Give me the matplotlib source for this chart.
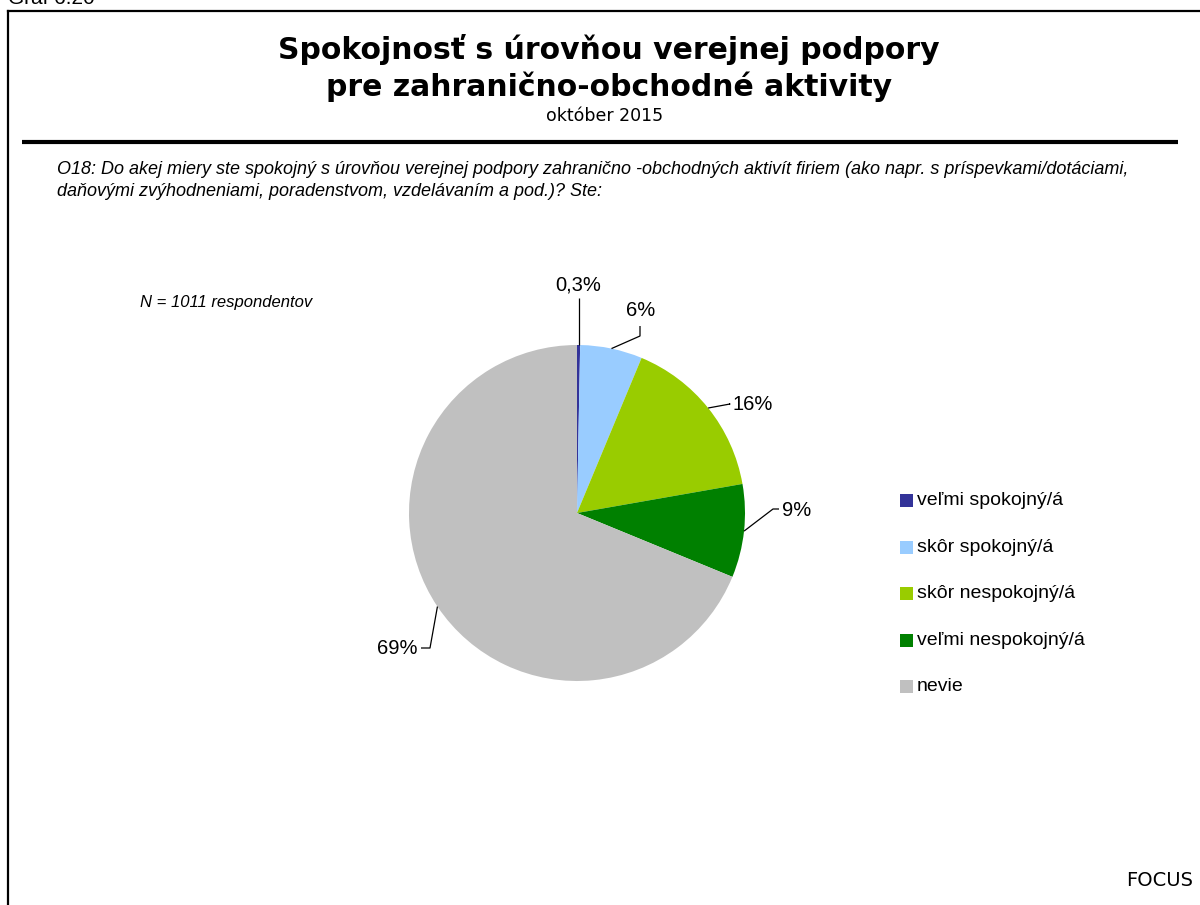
import numpy as np
import matplotlib
matplotlib.use("Agg")
import matplotlib.pyplot as plt
from matplotlib.patches import Rectangle

# data
categories = ["veľmi spokojný/á", "skôr spokojný/á", "skôr nespokojný/á", "veľmi nespokojný/á", "nevie"]
values = [0.3, 6, 16, 9, 69]
value_labels = ["0,3%", "6%", "16%", "9%", "69%"]
colors = ["#333399", "#99CCFF", "#99CC00", "#008000", "#C0C0C0"]

W, H = 1200, 905
fig = plt.figure(figsize=(W / 100, H / 100), dpi=100)
ax = fig.add_axes([0, 0, 1, 1])
def fy(y): return H - y

SANS = ["Liberation Sans", "DejaVu Sans"]

# pie
cx, cy, R = 577, 513, 168
wedges, _ = ax.pie(values, colors=colors, startangle=90, counterclock=False,
                   center=(cx, fy(cy)), radius=R, frame=True,
                   wedgeprops=dict(linewidth=0))
ax.set_xlim(0, W); ax.set_ylim(0, H); ax.set_aspect("equal"); ax.axis("off")

# leader lines + labels (elbow, label anchor in px; edge point from wedge mid-angle)
layout = [
    (None, (578, 285), "center"),
    ((640, 336), (641, 311), "center"),
    ((730, 404), (732, 405), "left"),
    ((773, 509), (782, 511), "left"),
    ((430, 648), (418, 649), "right"),
]
for w, lab, (elb, pos, ha) in zip(wedges, value_labels, layout):
    th = np.deg2rad((w.theta1 + w.theta2) / 2)
    ex, ey = w.center[0] + R * np.cos(th), w.center[1] + R * np.sin(th)
    if elb is None:
        xs, ys = [ex, ex], [ey, fy(298)]
    elif ha == "center":
        xs, ys = [ex, elb[0], elb[0]], [ey, fy(elb[1]), fy(elb[1] - 10)]
    elif ha == "left":
        xs, ys = [ex, elb[0], pos[0] - 3], [ey, fy(elb[1]), fy(elb[1])]
    else:
        xs, ys = [ex, elb[0], pos[0] + 3], [ey, fy(elb[1]), fy(elb[1])]
    ax.plot(xs, ys, color="black", lw=0.9, solid_capstyle="butt")
    ax.text(pos[0], fy(pos[1]), lab, ha=ha, va="center", fontsize=14.5, family=SANS)

# legend
for i, (c, lab) in enumerate(zip(colors, categories)):
    y = 501 + i * 46.4
    ax.add_patch(Rectangle((900, fy(y) - 6.5), 13, 13, color=c, lw=0))
    ax.text(917, fy(y), lab, ha="left", va="center", fontsize=14, family=SANS)

# frame
ax.plot([8, 8], [fy(11), 0], color="black", lw=1.6)
ax.plot([8, W], [fy(11), fy(11)], color="black", lw=1.6)
ax.plot([22, 1178], [fy(142), fy(142)], color="black", lw=3.0, solid_capstyle="butt")

# texts
ax.text(8, fy(4), "Graf 6.20", ha="left", va="baseline", fontsize=15, family=SANS)
ax.text(609, fy(50), "Spokojnosť s úrovňou verejnej podpory", ha="center", va="center",
        fontsize=21.5, fontweight="bold", family="DejaVu Sans")
ax.text(609, fy(87), "pre zahranično-obchodné aktivity", ha="center", va="center",
        fontsize=21.5, fontweight="bold", family="DejaVu Sans")
ax.text(605, fy(116), "október 2015", ha="center", va="center", fontsize=12.5, family="DejaVu Sans")
ax.text(57, fy(170), "O18: Do akej miery ste spokojný s úrovňou verejnej podpory zahranično -obchodných aktivít firiem (ako napr. s príspevkami/dotáciami,",
        ha="left", va="center", fontsize=13, style="italic", family=SANS)
ax.text(57, fy(191), "daňovými zvýhodneniami, poradenstvom, vzdelávaním a pod.)? Ste:",
        ha="left", va="center", fontsize=13, style="italic", family=SANS)
ax.text(140, fy(303), "N = 1011 respondentov", ha="left", va="center", fontsize=12,
        style="italic", family=SANS)
ax.text(1193, fy(880), "FOCUS", ha="right", va="center", fontsize=14, family="DejaVu Sans")

fig.savefig("out.png", dpi=100)
